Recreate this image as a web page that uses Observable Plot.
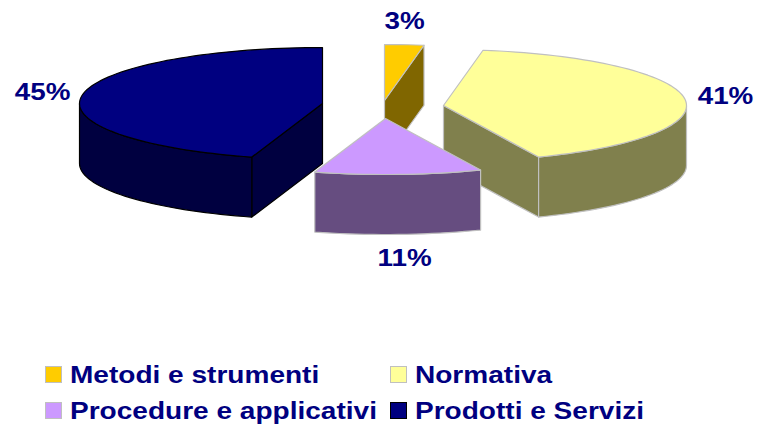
<!DOCTYPE html>
<html>
<head>
<meta charset="utf-8">
<script src="https://cdn.jsdelivr.net/npm/d3@7"></script>
<script src="https://cdn.jsdelivr.net/npm/@observablehq/plot@0.6"></script>
<style>
  html, body { margin: 0; padding: 0; background: #fff; }
  #chart svg { display: block; }
  #legend { position: absolute; left: 45px; top: 361px; display: grid; grid-template-columns: 345px auto; row-gap: 9px;
    font: bold 24.6px "Liberation Sans", Arial, sans-serif; color: #000080; line-height: 27px; }
  .item { display: flex; align-items: center; white-space: nowrap; }
  .item .txt { display: inline-block; transform: scaleX(1.14); transform-origin: left center; }
  .sw { width: 15px; height: 15px; border: 1px solid #c0c0c0; margin-right: 8px; flex: none; }
</style>
</head>
<body>
<div id="chart"></div>
<div id="legend"></div>
<script>
const categories = ["Metodi e strumenti", "Normativa", "Procedure e applicativi", "Prodotti e Servizi"];
const shares = [2.6, 41, 11.1, 45.3];
const labels = ["3%", "41%", "11%", "45%"];
const topColors = ["#FFCC00", "#FFFF99", "#CC99FF", "#000080"];
const sideColors = ["#806600", "#80804D", "#664D80", "#000040"];
const edgeColors = ["#C0C0C0", "#C0C0C0", "#C0C0C0", "#000000"];

// Pie layout: the exploded position of each slice and its label nudge.
const layout = {
  rx: 243, ry: 56, depth: 60,
  place: (i) => [
    {cx: 384, cy: 100, nudge: -3},
    {cx: 443, cy: 105, nudge: 1},
    {cx: 385, cy: 118, nudge: 4},
    {cx: 322, cy: 103, nudge: 0}
  ][i]
};
const {rx, ry, depth} = layout;
const rad = d => d * Math.PI / 180;
let start = 0;
const slices = shares.map((s, i) => {
  const a0 = start, a1 = start + s * 3.6;
  start = a1;
  return {i, a0, a1, ...layout.place(i)};
});
const rim = (s, a, dz = 0) => ({x: s.cx + rx * Math.sin(rad(a)), y: s.cy - ry * Math.cos(rad(a)) + dz});
const arc = (s, a0, a1, dz = 0) => {
  const n = Math.max(2, Math.ceil(Math.abs(a1 - a0) / 2));
  return d3.range(n + 1).map(k => rim(s, a0 + (a1 - a0) * k / n, dz));
};
const apex = (s, dz = 0) => ({x: s.cx, y: s.cy + dz});
const face = (pts, fill, stroke) => Plot.line(pts, {x: "x", y: "y", fill, stroke, strokeWidth: 1.2, curve: "linear-closed"});

// outer wall: the part of the rim that faces the viewer (90° to 270°)
const outerWall = s => {
  const a0 = Math.max(s.a0, 90), a1 = Math.min(s.a1, 270);
  if (a1 <= a0) return [];
  return [face([...arc(s, a0, a1), ...arc(s, a1, a0, depth)], sideColors[s.i], edgeColors[s.i])];
};
// cut wall from the apex to the rim at angle a
const cutWall = (s, a) => face([apex(s), rim(s, a), rim(s, a, depth), apex(s, depth)], sideColors[s.i], edgeColors[s.i]);
const topFace = s => face([apex(s), ...arc(s, s.a0, s.a1)], topColors[s.i], edgeColors[s.i]);

const [metodi, normativa, procedure, prodotti] = slices;
const marks = [
  cutWall(prodotti, prodotti.a0), ...outerWall(prodotti), topFace(prodotti),
  cutWall(metodi, metodi.a1), topFace(metodi),
  cutWall(normativa, normativa.a1), ...outerWall(normativa), topFace(normativa),
  ...outerWall(procedure), topFace(procedure)
];

const labelRows = slices.map(s => {
  const mid = rad((s.a0 + s.a1) / 2);
  return {
    label: labels[s.i],
    x: s.cx + (rx + 40) * Math.sin(mid) + s.nudge,
    y: s.cy - (ry + 24) * Math.cos(mid) + (Math.cos(mid) < -0.5 ? depth : 0)
  };
});
marks.push(Plot.text(labelRows, {
  x: "x", y: "y", text: "label", fill: "#000080", fontWeight: "bold", fontSize: 24.6,
  fontFamily: "Liberation Sans, Arial, sans-serif", textAnchor: "middle", lineAnchor: "middle"
}));

const H = 350;
const chart = Plot.plot({
  width: 757, height: H, margin: 0,
  x: {domain: [0, 757], range: [0, 757], axis: null},
  y: {domain: [0, H], range: [0, H], axis: null},
  marks
});
document.getElementById("chart").append(chart);

// The reference's text is stretched sideways: widen the glyphs of the value labels.
d3.select(chart).selectAll("text").each(function() {
  this.setAttribute("lengthAdjust", "spacingAndGlyphs");
  this.setAttribute("textLength", this.getComputedTextLength() * 1.13);
});

const legend = d3.select("#legend");
categories.forEach((c, i) => {
  const it = legend.append("div").attr("class", "item");
  it.append("span").attr("class", "sw").style("background", topColors[i]).style("border-color", i === 3 ? "#000" : "#c0c0c0");
  it.append("span").attr("class", "txt").text(c);
});
</script>
</body>
</html>
